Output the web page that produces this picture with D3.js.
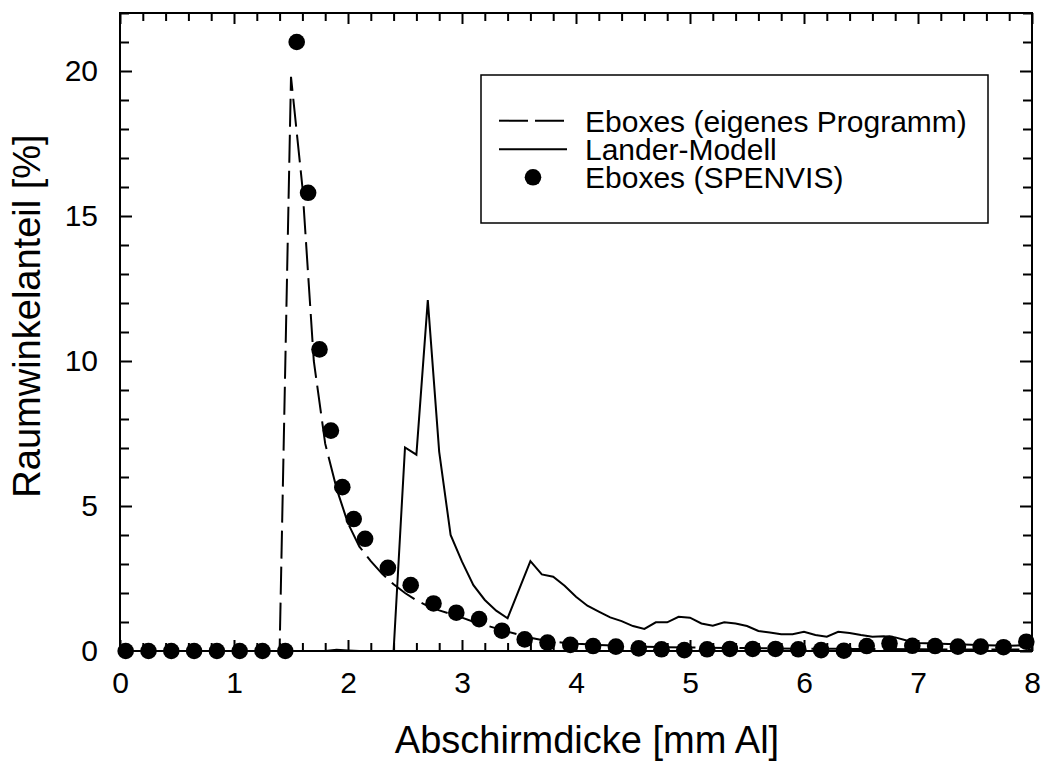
<!DOCTYPE html>
<html>
<head>
<meta charset="utf-8">
<script src="https://cdn.jsdelivr.net/npm/d3@7"></script>
<style>
    body { margin: 0; background: #fff; }
    svg { display: block; font-family: "Liberation Sans", Arial, sans-serif; }
</style>
</head>
<body>
<div id="chart"></div>
<script>
// Eboxes (eigenes Programm) - gestrichelte Linie
var eigenX = [0, 1.4, 1.5, 1.6, 1.7, 1.8, 1.9, 2.0, 2.1, 2.2, 2.3, 2.4, 2.5, 2.6, 2.7, 2.8, 2.9, 3.0,
    3.1, 3.2, 3.3, 3.4, 3.5, 3.6, 3.7, 3.8, 3.9, 4.0, 4.2, 4.4, 4.6, 4.8, 5.0, 5.5, 6.0, 6.5, 7.0, 7.5, 8.0];
var eigenY = [0, 0, 19.8, 16.0, 10.0, 7.15, 5.6, 4.4, 3.6, 3.1, 2.66, 2.3, 2.0, 1.75, 1.55, 1.4, 1.28, 1.15,
    1.01, 0.9, 0.78, 0.67, 0.56, 0.46, 0.38, 0.32, 0.28, 0.25, 0.21, 0.18, 0.15, 0.13, 0.12, 0.1, 0.08, 0.07, 0.06, 0.05, 0.05];

// Lander-Modell - durchgezogene Linie
var landerX = [0, 1.8, 1.9, 2.0, 2.1, 2.4, 2.5, 2.6, 2.7, 2.8, 2.9, 3.0, 3.1, 3.2, 3.3, 3.4, 3.6, 3.7, 3.8, 3.9,
    4.0, 4.1, 4.2, 4.3, 4.4, 4.5, 4.6, 4.7, 4.8, 4.9, 5.0, 5.1, 5.2, 5.3, 5.4, 5.5, 5.6, 5.7, 5.8, 5.9,
    6.0, 6.1, 6.2, 6.3, 6.4, 6.5, 6.6, 6.7, 6.8, 6.9, 7.0, 7.2, 7.4, 7.6, 7.8, 8.0];
var landerY = [0, 0, 0.04, 0.02, 0, 0, 7.02, 6.77, 12.1, 6.87, 4.0, 3.08, 2.27, 1.76, 1.39, 1.13, 3.1, 2.64, 2.56, 2.25,
    1.87, 1.56, 1.36, 1.16, 1.03, 0.86, 0.76, 0.99, 0.99, 1.18, 1.15, 0.95, 0.87, 0.99, 0.95, 0.86, 0.69, 0.64, 0.58, 0.58,
    0.66, 0.55, 0.49, 0.66, 0.62, 0.55, 0.49, 0.51, 0.47, 0.36, 0.28, 0.25, 0.22, 0.2, 0.18, 0.2];

// Eboxes (SPENVIS) - Punkte
var spenvisX = [0.05, 0.25, 0.45, 0.65, 0.85, 1.05, 1.25, 1.45, 1.55, 1.65, 1.75, 1.85, 1.95, 2.05, 2.15,
    2.35, 2.55, 2.75, 2.95, 3.15, 3.35, 3.55, 3.75, 3.95, 4.15, 4.35, 4.55, 4.75, 4.95, 5.15, 5.35, 5.55,
    5.75, 5.95, 6.15, 6.35, 6.55, 6.75, 6.95, 7.15, 7.35, 7.55, 7.75, 7.95];
var spenvisY = [0, 0, 0, 0, 0, 0, 0, 0, 21.0, 15.8, 10.4, 7.6, 5.65, 4.55, 3.87,
    2.87, 2.27, 1.64, 1.32, 1.10, 0.70, 0.40, 0.29, 0.21, 0.17, 0.15, 0.09, 0.06, 0.03, 0.06, 0.07, 0.07,
    0.07, 0.06, 0.03, 0.01, 0.17, 0.26, 0.18, 0.17, 0.15, 0.15, 0.13, 0.32];

var xTicks = [0, 1, 2, 3, 4, 5, 6, 7, 8];
var yTicks = [0, 5, 10, 15, 20];
var legendLabels = ["Eboxes (eigenes Programm)", "Lander-Modell", "Eboxes (SPENVIS)"];

var width = 1041, height = 762;
var plot = { left: 120, right: 1032, top: 13, bottom: 651 };

var svg = d3.select("#chart").append("svg")
    .attr("width", width)
    .attr("height", height);

var x = d3.scaleLinear().domain([0, 8]).range([plot.left, plot.right]);
var y = d3.scaleLinear().domain([0, 22]).range([plot.bottom, plot.top]);

var minorX = d3.range(0, 8.001, 0.2).filter(d => Math.abs(d - Math.round(d)) > 1e-6);
var minorY = d3.range(0, 22.001, 1).filter(d => d % 5 !== 0);

function tickAxis(axisFn, scale, values, size, transform) {
    return svg.append("g")
        .attr("transform", transform)
        .call(axisFn(scale).tickValues(values).tickSize(size).tickFormat(""))
        .call(g => g.select(".domain").remove())
        .call(g => g.selectAll("line").attr("stroke", "#000").attr("stroke-width", 2));
}

// Ticks nach innen, auf allen vier Seiten
tickAxis(d3.axisTop, x, xTicks, 11, `translate(0,${plot.bottom})`);
tickAxis(d3.axisTop, x, minorX, 8, `translate(0,${plot.bottom})`);
tickAxis(d3.axisBottom, x, xTicks, 11, `translate(0,${plot.top})`);
tickAxis(d3.axisBottom, x, minorX, 8, `translate(0,${plot.top})`);
tickAxis(d3.axisRight, y, yTicks, 12, `translate(${plot.left},0)`);
tickAxis(d3.axisRight, y, minorY, 9, `translate(${plot.left},0)`);
tickAxis(d3.axisLeft, y, yTicks, 12, `translate(${plot.right},0)`);
tickAxis(d3.axisLeft, y, minorY, 9, `translate(${plot.right},0)`);

// Beschriftungen
svg.append("g")
    .attr("transform", `translate(0,${plot.bottom})`)
    .call(d3.axisBottom(x).tickValues(xTicks).tickSize(0).tickPadding(21).tickFormat(d3.format("d")))
    .call(g => g.select(".domain").remove())
    .call(g => g.selectAll("text").attr("font-size", 30).attr("fill", "#000")
        .attr("font-family", "Liberation Sans, Arial, sans-serif"));

svg.append("g")
    .attr("transform", `translate(${plot.left},0)`)
    .call(d3.axisLeft(y).tickValues(yTicks).tickSize(0).tickPadding(22).tickFormat(d3.format("d")))
    .call(g => g.select(".domain").remove())
    .call(g => g.selectAll("text").attr("font-size", 30).attr("fill", "#000")
        .attr("font-family", "Liberation Sans, Arial, sans-serif"));

var lineGen = d3.line().x(d => x(d[0])).y(d => y(d[1]));

svg.append("path")
    .datum(eigenX.map((v, i) => [v, eigenY[i]]))
    .attr("d", lineGen)
    .attr("fill", "none")
    .attr("stroke", "#000")
    .attr("stroke-width", 2)
    .attr("stroke-dasharray", "28,8");

svg.append("path")
    .datum(landerX.map((v, i) => [v, landerY[i]]))
    .attr("d", lineGen)
    .attr("fill", "none")
    .attr("stroke", "#000")
    .attr("stroke-width", 2);

svg.append("g").selectAll("circle")
    .data(spenvisX.map((v, i) => [v, spenvisY[i]]))
    .join("circle")
    .attr("cx", d => x(d[0]))
    .attr("cy", d => y(d[1]))
    .attr("r", 8.3)
    .attr("fill", "#000");

// Rahmen
svg.append("rect")
    .attr("x", plot.left)
    .attr("y", plot.top)
    .attr("width", plot.right - plot.left)
    .attr("height", plot.bottom - plot.top)
    .attr("fill", "none")
    .attr("stroke", "#000")
    .attr("stroke-width", 2);

// Achsentitel
svg.append("text")
    .attr("x", 587)
    .attr("y", 753)
    .attr("text-anchor", "middle")
    .attr("font-size", 38)
    .text("Abschirmdicke [mm Al]");

svg.append("text")
    .attr("transform", "translate(40,316) rotate(-90)")
    .attr("text-anchor", "middle")
    .attr("font-size", 38)
    .text("Raumwinkelanteil [%]");

// Legende
var legend = svg.append("g");
legend.append("rect")
    .attr("x", 481).attr("y", 75)
    .attr("width", 507).attr("height", 148)
    .attr("fill", "#fff")
    .attr("stroke", "#000")
    .attr("stroke-width", 1.5);

var rowY = [120.7, 149.3, 177.3];
legend.append("line")
    .attr("x1", 499).attr("x2", 567).attr("y1", rowY[0]).attr("y2", rowY[0])
    .attr("stroke", "#000").attr("stroke-width", 2).attr("stroke-dasharray", "29,7");
legend.append("line")
    .attr("x1", 499).attr("x2", 567).attr("y1", rowY[1]).attr("y2", rowY[1])
    .attr("stroke", "#000").attr("stroke-width", 2);
legend.append("circle")
    .attr("cx", 533).attr("cy", rowY[2]).attr("r", 8.3).attr("fill", "#000");

legend.selectAll("text.lab")
    .data(legendLabels)
    .join("text")
    .attr("class", "lab")
    .attr("x", 585)
    .attr("y", (d, i) => rowY[i] + 3)
    .attr("dominant-baseline", "middle")
    .attr("font-size", 30)
    .text(d => d);
</script>
</body>
</html>
